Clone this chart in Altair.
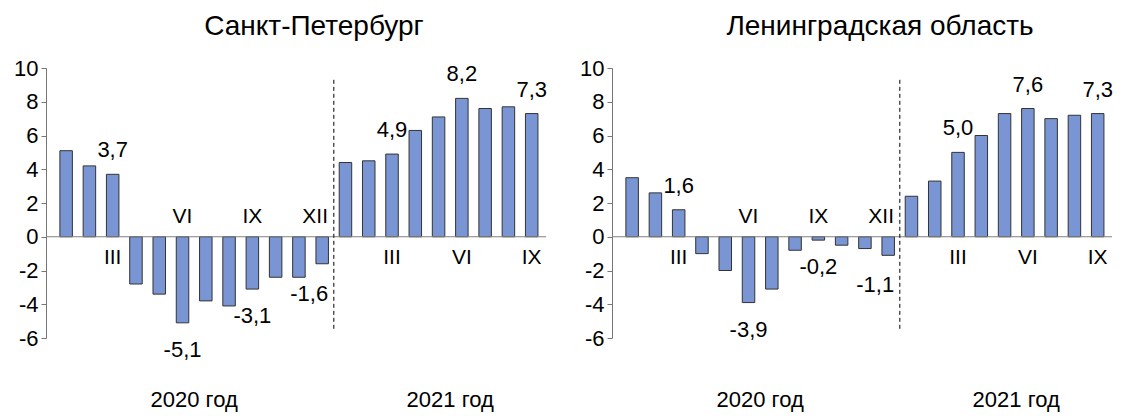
import altair as alt
import pandas as pd

# ---- data ----
idx = list(range(21))
spb_values = [5.1, 4.2, 3.7, -2.8, -3.4, -5.1, -3.8, -4.1, -3.1, -2.4, -2.4, -1.6,
              4.4, 4.5, 4.9, 6.3, 7.1, 8.2, 7.6, 7.7, 7.3]
lo_values = [3.5, 2.6, 1.6, -1.0, -2.0, -3.9, -3.1, -0.8, -0.2, -0.5, -0.7, -1.1,
             2.4, 3.3, 5.0, 6.0, 7.3, 7.6, 7.0, 7.2, 7.3]
label_idx = [2, 5, 8, 11, 14, 17, 20]
month_labels = ["III", "VI", "IX", "XII", "III", "VI", "IX"]
year_labels = ["2020 год", "2021 год"]
year_pos = [5.5, 16.5]
titles = ["Санкт-Петербург", "Ленинградская область"]
y_ticks = [-6, -4, -2, 0, 2, 4, 6, 8, 10]
divider = [11.5]
divider_top = [9.3]
divider_bottom = [-5.5]

FONT = "Liberation Sans"
W, H = 500, 270
BAR = "#7A95D3"


def panel(title, values):
    rows = []
    for i, v in zip(idx, values):
        shown = i in label_idx
        rows.append(dict(
            i=i, v=v, z=0,
            m=month_labels[label_idx.index(i)] if shown else "",
            lab=f"{v:.1f}".replace(".", ",") if shown else "",
        ))
    df = pd.DataFrame(rows)
    xs = alt.Scale(domain=[-0.65, 20.4], nice=False, zero=False)
    ys = alt.Scale(domain=[-6, 10], nice=False)
    yaxis = alt.Axis(values=y_ticks, format="d", tickSize=5, labelFontSize=22,
                     labelFont=FONT, labelColor="black", labelPadding=3,
                     domainColor="#777", tickColor="#777", grid=False)
    x = alt.X("i:Q", scale=xs, axis=None)
    y = alt.Y("v:Q", scale=ys, title=None, axis=yaxis)
    yz = alt.Y("z:Q", scale=ys, title=None, axis=yaxis)
    base = alt.Chart(df)
    bars = base.mark_bar(size=12.5, color=BAR, stroke="#333", strokeWidth=1).encode(x=x, y=y)
    zero = base.transform_filter("datum.i == 0").mark_rule(
        color="#808080", strokeWidth=1).encode(y=yz)
    dash = alt.Chart(pd.DataFrame({"d": divider, "t": divider_top, "b": divider_bottom})).mark_rule(
        color="black", strokeDash=[4, 3], strokeWidth=1).encode(
        x=alt.X("d:Q", scale=xs, axis=None),
        y=alt.Y("t:Q", scale=ys, title=None, axis=yaxis), y2="b:Q")

    vt = dict(font=FONT, fontSize=22, color="black", baseline="middle")
    mt = dict(font=FONT, fontSize=21, color="black", baseline="middle")
    vpos = base.transform_filter("datum.lab != '' && datum.v >= 0 && datum.i != 11").mark_text(
        dy=-24, **vt).encode(x=x, y=y, text="lab:N")
    vneg = base.transform_filter("datum.lab != '' && datum.v < 0 && datum.i != 11").mark_text(
        dy=27, **vt).encode(x=x, y=y, text="lab:N")
    vedge = base.transform_filter("datum.lab != '' && datum.i == 11").mark_text(
        dy=30, dx=-13, **vt).encode(x=x, y=y, text="lab:N")

    mpos = base.transform_filter("datum.m != '' && datum.v >= 0").mark_text(
        dy=21, **mt).encode(x=x, y=yz, text="m:N")
    mneg = base.transform_filter("datum.m != '' && datum.v < 0 && datum.i != 11").mark_text(
        dy=-20, **mt).encode(x=x, y=yz, text="m:N")
    medge = base.transform_filter("datum.m != '' && datum.i == 11").mark_text(
        dy=-20, dx=-7, **mt).encode(x=x, y=yz, text="m:N")

    years = alt.Chart(pd.DataFrame({"p": year_pos, "t": year_labels})).mark_text(
        font=FONT, fontSize=22, color="black", baseline="middle").encode(
        x=alt.X("p:Q", scale=xs, axis=None), y=alt.value(H + 62), text="t:N")

    return alt.layer(bars, zero, dash, vpos, vneg, vedge, mpos, mneg, medge, years).properties(
        width=W, height=H,
        title=alt.TitleParams(title, font=FONT, fontSize=28, fontWeight="normal",
                              color="black", offset=16, dx=18),
    )


chart = alt.hconcat(panel(titles[0], spb_values), panel(titles[1], lo_values),
                    spacing=32).configure(
    locale=alt.Locale(number=alt.NumberLocale(decimal=",", thousands=" ", grouping=[3],
                                              currency=["", ""], minus="-"))
).configure_view(strokeWidth=0, stroke=None)

chart.save("out.html", embed_options={"renderer": "svg", "actions": False})
